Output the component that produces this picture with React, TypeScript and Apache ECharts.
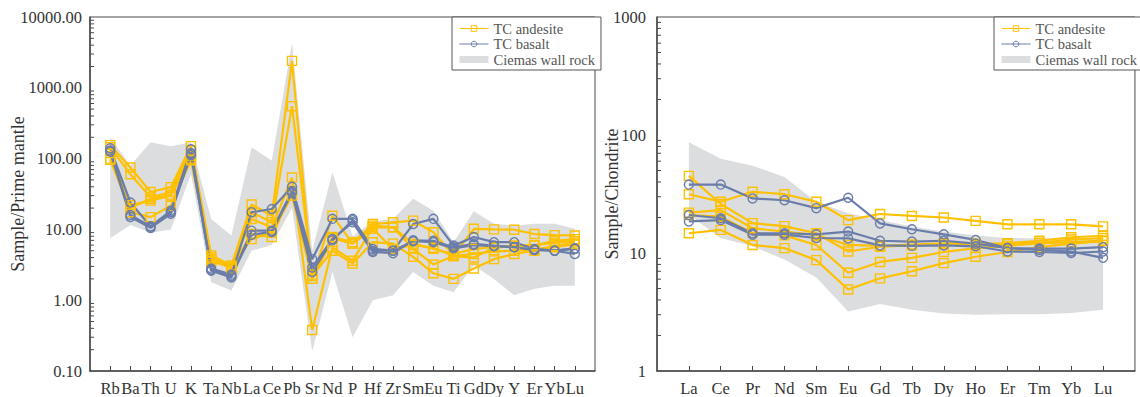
import React, { useEffect, useRef } from "react";
import * as echarts from "echarts";

// ---------- categories ----------
const traceElements = ["Rb", "Ba", "Th", "U", "K", "Ta", "Nb", "La", "Ce", "Pb", "Sr", "Nd", "P", "Hf", "Zr", "Sm", "Eu", "Ti", "Gd", "Dy", "Y", "Er", "Yb", "Lu"];
const reeElements = ["La", "Ce", "Pr", "Nd", "Sm", "Eu", "Gd", "Tb", "Dy", "Ho", "Er", "Tm", "Yb", "Lu"];

// ---------- primitive-mantle normalised (left) ----------
const andesiteTrace1 = [155, 75, 33.7, 39.5, 150, 4.3, 3.1, 22.5, 15.6, 2400, 2.0, 15.6, 6.3, 11.9, 12.6, 13.3, 9.1, 4.3, 10.2, 10.0, 9.9, 8.6, 8.3, 8.2];
const andesiteTrace2 = [145, 60, 28.5, 33.7, 130, 4.0, 2.9, 17.5, 12.6, 550, 2.3, 7.8, 6.6, 11.3, 10.7, 6.3, 5.3, 4.5, 5.3, 5.6, 5.9, 5.9, 6.9, 7.3];
const andesiteTrace3 = [120, 22, 25.5, 30, 100, 3.8, 2.8, 14, 10.7, 54, 0.38, 5.6, 3.6, 10.7, 10.7, 5.3, 3.2, 4.2, 4.0, 5.5, 5.9, 6.0, 6.5, 6.8];
const andesiteTrace4 = [100, 17.5, 14.9, 21.6, 95, 3.6, 2.9, 8.6, 7.8, 35, 2.2, 5.0, 3.3, 6.6, 6.3, 4.1, 2.4, 2.0, 2.8, 3.8, 4.5, 5.0, 5.6, 6.2];
const andesiteTrace5 = [96, 20, 27, 31, 110, 3.5, 3.0, 7.3, 9.0, 30, 2.0, 7.5, 6.3, 10.2, 5.3, 6.0, 5.5, 4.2, 4.5, 4.9, 5.0, 5.2, 5.8, 6.5];
const basaltTrace1 = [140, 24, 11, 18.3, 135, 2.8, 2.3, 17.5, 19.4, 40, 3.8, 14.1, 14.1, 5.3, 5.0, 11.9, 14.1, 5.9, 7.8, 6.6, 6.6, 5.3, 5.0, 4.5];
const basaltTrace2 = [125, 15, 10.5, 16.6, 120, 2.6, 2.1, 9.6, 9.6, 35, 2.9, 7.3, 12.6, 4.8, 4.6, 7.0, 6.9, 5.6, 6.25, 5.9, 5.6, 5.2, 5.0, 5.3];
const basaltTrace3 = [130, 16, 11, 17.5, 112, 2.7, 2.2, 8.4, 9.2, 33, 2.5, 7.0, 13.5, 5.0, 5.0, 6.8, 6.6, 5.4, 6.0, 5.8, 5.6, 5.1, 5.0, 5.4];
const wallRockTraceUpper = [200, 80, 170, 150, 170, 14, 8.2, 145, 93, 4300, 5, 64, 8, 13, 14, 27, 18.4, 6.6, 18, 12, 11.3, 12, 12, 10.2];
const wallRockTraceLower = [7.5, 11.5, 9, 10, 60, 1.8, 1.37, 5, 6, 20, 0.19, 2.5, 0.3, 1.0, 1.17, 2.5, 1.6, 1.3, 3.1, 2.0, 1.17, 1.45, 1.6, 1.6];

// ---------- chondrite normalised (right) ----------
const andesiteRee1 = [45, 26, 17.9, 16.9, 14.7, 10.3, 11.3, 11.6, 11.9, 11.7, 12.0, 12.2, 13.0, 13.4];
const andesiteRee2 = [31.5, 27.2, 33, 31.5, 27.2, 19, 21.4, 20.6, 20, 18.7, 17.5, 17.5, 17.5, 16.8];
const andesiteRee3 = [22, 23.1, 16.2, 15.2, 14.2, 11.7, 11.5, 11.8, 12.1, 12.0, 12.1, 12.7, 13.6, 14.0];
const andesiteRee4 = [21, 20.3, 14.8, 14.1, 11.7, 6.8, 8.4, 9.1, 10.2, 11.0, 11.5, 12.1, 12.3, 12.8];
const andesiteRee5 = [14.7, 15.7, 11.7, 11.0, 8.7, 4.9, 6.1, 7.0, 8.2, 9.3, 10.2, 11.2, 12.0, 12.6];
const basaltRee1 = [38, 38, 29, 28, 24, 29.4, 17.8, 15.9, 14.4, 12.9, 11.0, 10.6, 10.3, 9.1];
const basaltRee2 = [21, 19.7, 14.7, 14.7, 14.4, 15.2, 12.7, 12.5, 12.7, 12.0, 11.0, 10.9, 10.9, 11.2];
const basaltRee3 = [18.5, 19.0, 14.3, 14.3, 13.4, 13.3, 11.6, 11.5, 11.6, 11.4, 10.3, 10.2, 10.0, 10.3];
const wallRockReeUpper = [87, 63, 55, 44, 27, 21.7, 19, 16.8, 15.2, 14.1, 13.4, 13.3, 13.4, 13.4];
const wallRockReeLower = [21, 13.4, 11.4, 8.8, 6.2, 3.2, 3.7, 3.3, 3.07, 3.0, 3.02, 3.02, 3.1, 3.3];

// ---------- axis ticks ----------
const leftMajorTicks = [0.1, 1, 10, 100, 1000, 10000];
const rightMajorTicks = [1, 10, 100, 1000];
const minorMultipliers = [2, 3, 4, 5, 6, 7, 8, 9];

const ANDESITE = "#FFC000";
const BASALT = "#6A7DAA";
const BAND = "#DCDDDE";
const AXIS = "#4a4a4a";
const FONT = "Liberation Serif";

function minorTicksFor(majors: number[]) {
  const out: number[] = [];
  for (let i = 0; i < majors.length - 1; i++) {
    for (const m of minorMultipliers) out.push(majors[i] * m);
  }
  return out;
}

export default function App() {
  const ref = useRef<HTMLDivElement>(null);

  useEffect(() => {
    if (!ref.current) return;
    const chart = echarts.init(ref.current, null, { renderer: "svg" });

    const leftCats = ["", ...traceElements, " "];
    const rightCats = ["", ...reeElements, " "];

    const toPairs = (vals: number[]) => vals.map((v, i) => [i + 1, v]);

    const andesiteStyle = (xi: number, vals: number[]) => ({
      type: "line",
      name: "TC andesite",
      xAxisIndex: xi,
      yAxisIndex: xi,
      data: toPairs(vals),
      symbol: "rect",
      symbolSize: 9,
      z: 3,
      lineStyle: { color: ANDESITE, width: 2.2 },
      itemStyle: { color: "rgba(0,0,0,0)", borderColor: ANDESITE, borderWidth: 1.4 },
      emphasis: { disabled: true },
    });
    const basaltStyle = (xi: number, vals: number[]) => ({
      type: "line",
      name: "TC basalt",
      xAxisIndex: xi,
      yAxisIndex: xi,
      data: toPairs(vals),
      symbol: "circle",
      symbolSize: 9,
      z: 3,
      lineStyle: { color: BASALT, width: 2.2 },
      itemStyle: { color: "rgba(0,0,0,0)", borderColor: BASALT, borderWidth: 1.4 },
      emphasis: { disabled: true },
    });
    const bandSeries = (xi: number, upper: number[], lower: number[]) => ({
      type: "custom",
      name: "Ciemas wall rock",
      xAxisIndex: xi,
      yAxisIndex: xi,
      z: 1,
      silent: true,
      itemStyle: { color: BAND },
      data: [[1, upper[0]]],
      renderItem: (_params: any, api: any) => {
        const pts: number[][] = [];
        upper.forEach((v, i) => pts.push(api.coord([i + 1, v])));
        for (let i = lower.length - 1; i >= 0; i--) pts.push(api.coord([i + 1, lower[i]]));
        return { type: "polygon", shape: { points: pts }, style: { fill: BAND, stroke: null } };
      },
    });
    const minorTickSeries = (xi: number, ticks: number[]) => ({
      type: "custom",
      xAxisIndex: xi,
      yAxisIndex: xi,
      z: 5,
      silent: true,
      data: ticks.map((t) => [0, t]),
      renderItem: (_params: any, api: any) => {
        const p = api.coord([0, api.value(1)]);
        return {
          type: "line",
          shape: { x1: p[0], y1: p[1], x2: p[0] + 4, y2: p[1] },
          style: { stroke: AXIS, lineWidth: 1 },
        };
      },
    });

    const xAxisCommon = (cats: string[], gi: number) => ({
      type: "category",
      gridIndex: gi,
      data: cats,
      boundaryGap: false,
      axisLine: { lineStyle: { color: AXIS, width: 1.5 } },
      axisTick: {
        inside: true,
        length: 5,
        lineStyle: { color: AXIS, width: 1 },
        interval: (_i: number, v: string) => v.trim() !== "",
      },
      axisLabel: { interval: 0, color: "#333", fontFamily: FONT, fontSize: 16.5, margin: 9 },
      splitLine: { show: false },
    });

    const legendCommon = (left: number) => ({
      left,
      top: 17,
      orient: "vertical",
      padding: [4, 6, 3, 7],
      itemGap: 0.5,
      itemWidth: 29,
      itemHeight: 7,
      selectedMode: false,
      backgroundColor: "#fff",
      borderColor: "#555",
      borderWidth: 1,
      borderRadius: 0,
      textStyle: { fontFamily: FONT, fontSize: 14.5, color: "#555", lineHeight: 14 },
      lineStyle: { width: 1 },
      data: [
        { name: "TC andesite", itemStyle: { borderWidth: 1 } },
        { name: "TC basalt", itemStyle: { borderWidth: 1 } },
        { name: "Ciemas wall rock", icon: "rect", itemStyle: { color: BAND, borderWidth: 0 } },
      ],
    });

    const option: any = {
      animation: false,
      backgroundColor: "#fff",
      grid: [
        { left: 90, top: 17, width: 505, height: 356, show: true, borderColor: AXIS, borderWidth: 1, backgroundColor: "transparent" },
        { left: 657, top: 17, width: 487, height: 357, show: true, borderColor: AXIS, borderWidth: 1, backgroundColor: "transparent" },
      ],
      legend: [legendCommon(452), legendCommon(994)],
      xAxis: [xAxisCommon(leftCats, 0), xAxisCommon(rightCats, 1)],
      yAxis: [
        {
          type: "log",
          gridIndex: 0,
          logBase: 10,
          min: leftMajorTicks[0],
          max: leftMajorTicks[leftMajorTicks.length - 1],
          interval: 1,
          name: "Sample/Prime mantle",
          nameLocation: "middle",
          nameGap: 63,
          nameMoveOverlap: false,
          nameTextStyle: { fontFamily: FONT, fontSize: 18, color: "#333" },
          axisLine: { show: true, lineStyle: { color: AXIS, width: 1.5 } },
          axisTick: { inside: true, length: 6, lineStyle: { color: AXIS, width: 1 } },
          axisLabel: { color: "#333", fontFamily: FONT, fontSize: 16.5, margin: 8, formatter: (v: number) => Number(v).toFixed(2) },
          splitLine: { show: false },
        },
        {
          type: "log",
          gridIndex: 1,
          logBase: 10,
          min: rightMajorTicks[0],
          max: rightMajorTicks[rightMajorTicks.length - 1],
          interval: 1,
          name: "Sample/Chondrite",
          nameLocation: "middle",
          nameGap: 36,
          nameMoveOverlap: false,
          nameTextStyle: { fontFamily: FONT, fontSize: 18, color: "#333" },
          axisLine: { show: true, lineStyle: { color: AXIS, width: 1.5 } },
          axisTick: { inside: true, length: 6, lineStyle: { color: AXIS, width: 1 } },
          axisLabel: { color: "#333", fontFamily: FONT, fontSize: 16.5, margin: 11, formatter: (v: number) => String(Math.round(v)) },
          splitLine: { show: false },
        },
      ],
      series: [
        bandSeries(0, wallRockTraceUpper, wallRockTraceLower),
        bandSeries(1, wallRockReeUpper, wallRockReeLower),
        minorTickSeries(0, minorTicksFor(leftMajorTicks)),
        minorTickSeries(1, minorTicksFor(rightMajorTicks)),
        andesiteStyle(0, andesiteTrace1),
        andesiteStyle(0, andesiteTrace2),
        andesiteStyle(0, andesiteTrace3),
        andesiteStyle(0, andesiteTrace4),
        andesiteStyle(0, andesiteTrace5),
        basaltStyle(0, basaltTrace1),
        basaltStyle(0, basaltTrace2),
        basaltStyle(0, basaltTrace3),
        andesiteStyle(1, andesiteRee1),
        andesiteStyle(1, andesiteRee2),
        andesiteStyle(1, andesiteRee3),
        andesiteStyle(1, andesiteRee4),
        andesiteStyle(1, andesiteRee5),
        basaltStyle(1, basaltRee1),
        basaltStyle(1, basaltRee2),
        basaltStyle(1, basaltRee3),
      ],
    };

    chart.setOption(option);
    return () => chart.dispose();
  }, []);

  return (
    <div
      ref={ref}
      style={{ position: "fixed", left: 0, top: 0, width: 1140, height: 397, background: "#fff" }}
    />
  );
}
